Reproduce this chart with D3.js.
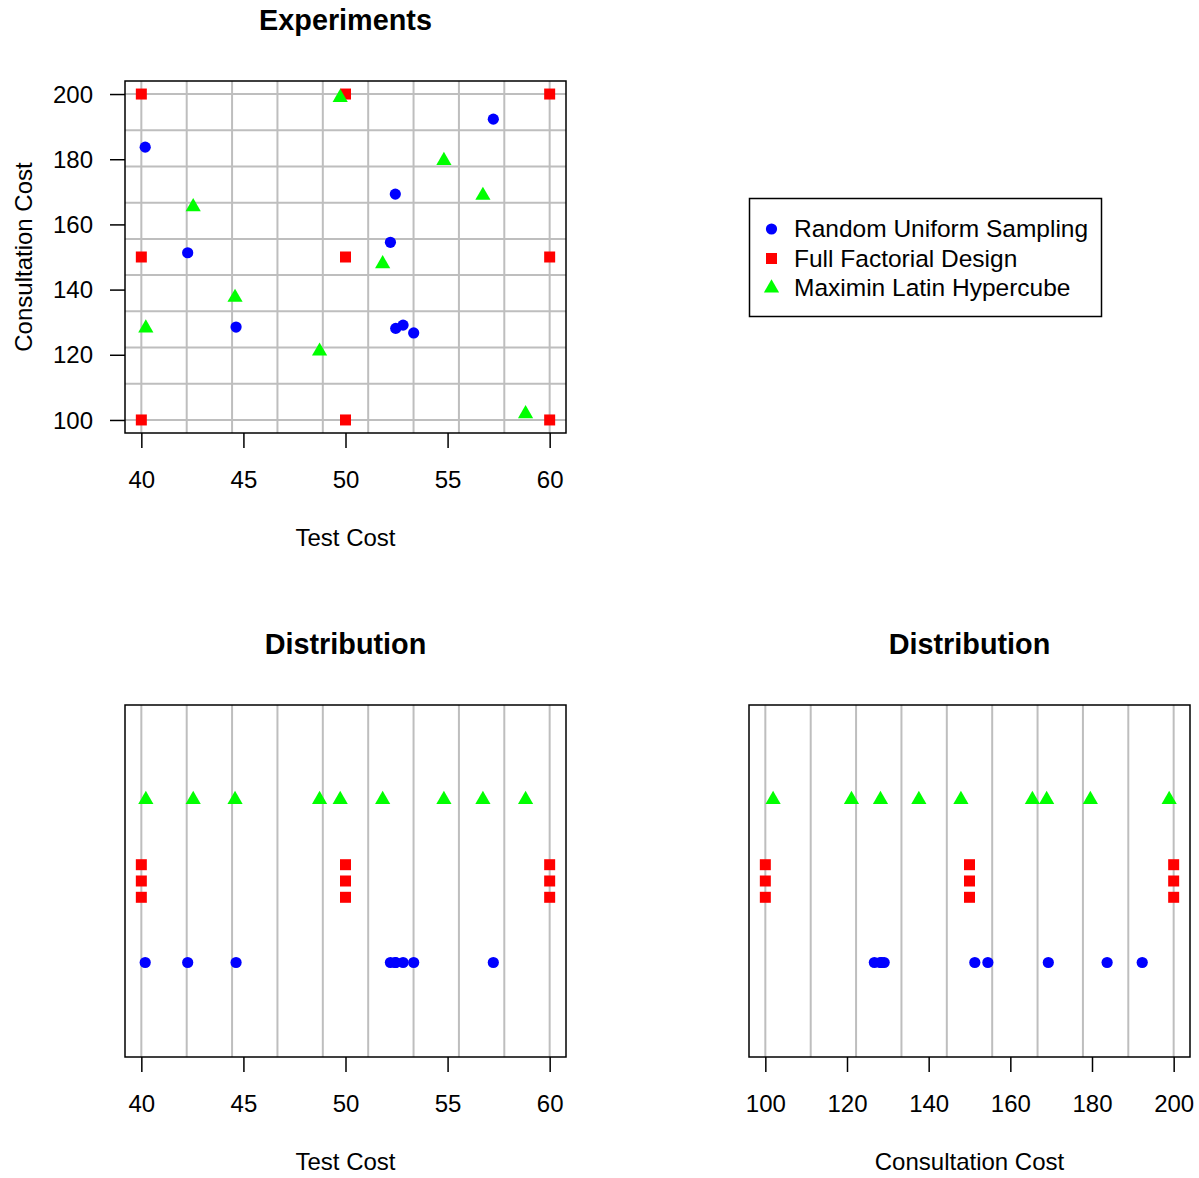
<!DOCTYPE html>
<html>
<head>
<meta charset="utf-8">
<script src="https://cdn.jsdelivr.net/npm/d3@7"></script>
<style>
  body { margin: 0; background: #fff; }
  svg { font-family: "Liberation Sans", Arial, sans-serif; }
  .grid line { stroke: #bebebe; stroke-width: 2; }
  .tick line { stroke: #000; stroke-width: 1.5; }
</style>
</head>
<body>
<div id="chart"></div>
<script>
// series
const designs = ['Random Uniform Sampling', 'Full Factorial Design', 'Maximin Latin Hypercube'];
const colors = ['#0000ff', '#ff0000', '#00ff00'];

const randomTest = [40.19, 42.27, 44.64, 52.2, 52.44, 52.46, 52.82, 53.34, 57.24];
const randomConsult = [183.7, 151.3, 128.5, 154.5, 169.3, 128.1, 129.1, 126.7, 192.3];

const factorialTest = [40, 50, 60, 40, 50, 60, 40, 50, 60];
const factorialConsult = [100, 100, 100, 150, 150, 150, 200, 200, 200];

const lhsTest = [40.22, 42.54, 44.59, 48.73, 49.74, 51.82, 54.82, 56.73, 58.82];
const lhsConsult = [128.2, 165.4, 137.6, 121.1, 198.9, 147.9, 179.6, 168.9, 101.9];

// strip rows in the distribution panels (ylim 0..4)
const stripRows = [1, 2, 3];
const stripOffset = 0.2;

const testTicks = [40, 45, 50, 55, 60];
const consultTicks = [100, 120, 140, 160, 180, 200];
const testGrid = d3.range(10).map(i => 40 + i * 20 / 9);
const consultGrid = d3.range(10).map(i => 100 + i * 100 / 9);

const series = [
  { name: designs[0], color: colors[0], shape: 'circle', test: randomTest, consult: randomConsult },
  { name: designs[1], color: colors[1], shape: 'square', test: factorialTest, consult: factorialConsult },
  { name: designs[2], color: colors[2], shape: 'triangle', test: lhsTest, consult: lhsConsult },
];

const width = 1199, height = 1178;
const svg = d3.select('#chart').append('svg')
  .attr('width', width).attr('height', height);

const symbolFor = {
  circle: d3.symbol().type(d3.symbolCircle).size(Math.PI * 5.6 * 5.6),
  square: d3.symbol().type(d3.symbolSquare).size(121),
  triangle: d3.symbol().type(d3.symbolTriangle).size(100),
};

// R style: data range widened by 4% each side
function padded(lo, hi) {
  const p = (hi - lo) * 0.04;
  return [lo - p, hi + p];
}

function makePanel(box, title, xLabel, xDomain, xTicks, xGrid, yDomain, yTicks, yGrid, yLabel) {
  const g = svg.append('g');
  const x = d3.scaleLinear().domain(padded(...xDomain)).range([box.left, box.right]);
  const y = d3.scaleLinear().domain(padded(...yDomain)).range([box.bottom, box.top]);

  // grid
  const grid = g.append('g').attr('class', 'grid');
  grid.selectAll('.v').data(xGrid).join('line').attr('class', 'v')
    .attr('x1', d => x(d)).attr('x2', d => x(d))
    .attr('y1', box.top).attr('y2', box.bottom);
  if (yGrid) {
    grid.selectAll('.h').data(yGrid).join('line').attr('class', 'h')
      .attr('y1', d => y(d)).attr('y2', d => y(d))
      .attr('x1', box.left).attr('x2', box.right);
  }

  // x axis
  const xAxis = g.append('g')
    .attr('transform', `translate(0, ${box.bottom})`)
    .call(d3.axisBottom(x).tickValues(xTicks).tickSize(15).tickSizeOuter(0));
  xAxis.select('.domain').remove();
  xAxis.selectAll('text').attr('y', 54.5).attr('dy', null)
    .style('font-size', '24px').attr('fill', '#000');
  xAxis.attr('font-family', null).attr('font-size', null);

  if (yTicks) {
    const yAxis = g.append('g')
      .attr('transform', `translate(${box.left}, 0)`)
      .call(d3.axisLeft(y).tickValues(yTicks).tickSize(15).tickPadding(17).tickSizeOuter(0));
    yAxis.select('.domain').remove();
    yAxis.selectAll('text').attr('dy', '0.34em')
      .style('font-size', '24px').attr('fill', '#000');
    yAxis.attr('font-family', null).attr('font-size', null);
  }

  // box
  g.append('rect')
    .attr('x', box.left).attr('y', box.top)
    .attr('width', box.right - box.left).attr('height', box.bottom - box.top)
    .attr('fill', 'none').attr('stroke', '#000').attr('stroke-width', 1.5);

  const cx = (box.left + box.right) / 2;
  g.append('text').attr('x', cx).attr('y', box.top - 51)
    .attr('text-anchor', 'middle').style('font-size', '28.8px').style('font-weight', 'bold')
    .text(title);
  g.append('text').attr('x', cx).attr('y', box.bottom + 112.5)
    .attr('text-anchor', 'middle').style('font-size', '24px')
    .text(xLabel);
  if (yLabel) {
    g.append('text')
      .attr('transform', `translate(${box.left - 93}, ${(box.top + box.bottom) / 2}) rotate(-90)`)
      .attr('text-anchor', 'middle').style('font-size', '24px')
      .text(yLabel);
  }
  return { g, x, y };
}

function drawPoints(g, pts, s) {
  g.append('g').selectAll('path').data(pts).join('path')
    .attr('transform', d => `translate(${d[0]}, ${d[1]})`)
    .attr('d', symbolFor[s.shape]())
    .attr('fill', s.color);
}

// Experiments scatter
const scatter = makePanel({ left: 125, right: 566, top: 81, bottom: 433 },
  'Experiments', 'Test Cost', [40, 60], testTicks, testGrid,
  [100, 200], consultTicks, consultGrid, 'Consultation Cost');
series.forEach(s => {
  drawPoints(scatter.g, s.test.map((t, i) => [scatter.x(t), scatter.y(s.consult[i])]), s);
});

// strip charts, equal values stacked
function stripPoints(values, row, p) {
  const counts = d3.rollup(values, v => v.length, v => v);
  const seen = new Map();
  return values.map(v => {
    const n = seen.get(v) || 0;
    seen.set(v, n + 1);
    const total = counts.get(v);
    return [p.x(v), p.y(row + (n - (total - 1) / 2) * stripOffset)];
  });
}

const distTest = makePanel({ left: 125, right: 566, top: 705, bottom: 1057 },
  'Distribution', 'Test Cost', [40, 60], testTicks, testGrid, [0, 4]);
const distConsult = makePanel({ left: 749, right: 1190, top: 705, bottom: 1057 },
  'Distribution', 'Consultation Cost', [100, 200], consultTicks, consultGrid, [0, 4]);

series.forEach((s, i) => {
  drawPoints(distTest.g, stripPoints(s.test, stripRows[i], distTest), s);
  drawPoints(distConsult.g, stripPoints(s.consult, stripRows[i], distConsult), s);
});

// legend
const legend = svg.append('g').attr('transform', 'translate(749.5, 198.5)');
legend.append('rect').attr('width', 352).attr('height', 118)
  .attr('fill', '#fff').attr('stroke', '#000').attr('stroke-width', 1.5);
const item = legend.selectAll('.item').data(series).join('g')
  .attr('transform', (d, i) => `translate(0, ${30.5 + i * 29.5})`);
item.append('path')
  .attr('transform', 'translate(22, 0)')
  .attr('d', d => symbolFor[d.shape]())
  .attr('fill', d => d.color);
item.append('text').attr('x', 44.5).attr('dy', '0.33em')
  .style('font-size', '24.5px')
  .text(d => d.name);
</script>
</body>
</html>
